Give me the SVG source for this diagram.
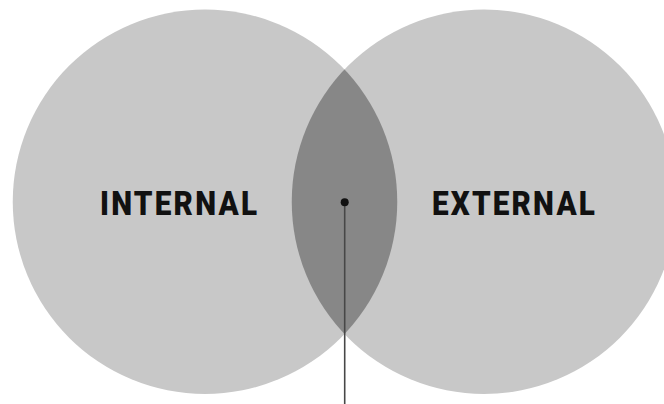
<svg xmlns="http://www.w3.org/2000/svg" width="664" height="404" viewBox="0 0 664 404">
<style>
.c{fill:#c8c8c8}
.lens{fill:#878787}
.lbl{font-family:Roboto,"Liberation Sans",sans-serif;font-weight:900;font-size:33px;fill:#111}
</style>
<defs>
<clipPath id="clipL"><circle cx="205" cy="201.75" r="192.25"/></clipPath>
</defs>
<rect width="664" height="404" fill="#ffffff"/>
<g id="internal">
<circle class="c" cx="205" cy="201.75" r="192.25"/>
<text class="lbl" transform="translate(100,215) scale(0.9,1)" x="0" y="0" textLength="174.5" lengthAdjust="spacing">INTERNAL</text>
</g>
<g id="external">
<circle class="c" cx="484" cy="201.75" r="192.25"/>
<text class="lbl" transform="translate(432,215) scale(0.9,1)" x="0" y="0" textLength="181" lengthAdjust="spacing">EXTERNAL</text>
</g>
<g id="overlap">
<circle class="lens" cx="484" cy="201.75" r="192.25" clip-path="url(#clipL)"/>
</g>
<g id="connectors">
<line x1="344.7" y1="202.3" x2="344.7" y2="404" stroke="#474747" stroke-width="1.6"/>
<circle cx="344.7" cy="202.3" r="4" fill="#111"/>
</g>
</svg>
